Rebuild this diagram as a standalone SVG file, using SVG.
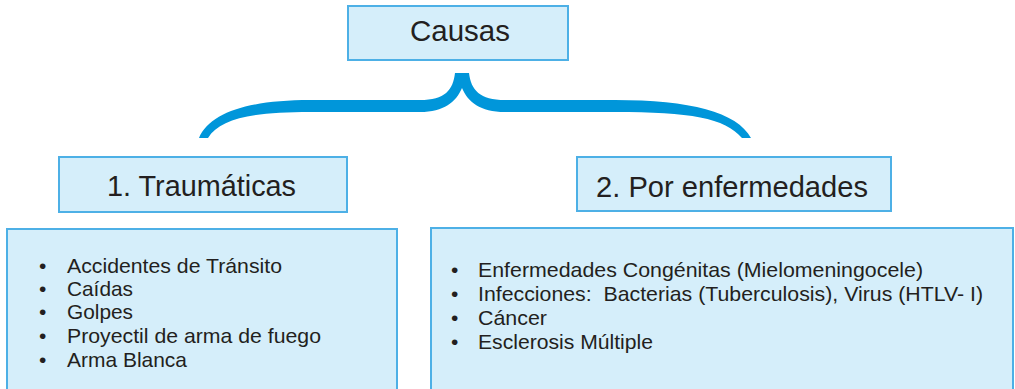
<svg xmlns="http://www.w3.org/2000/svg" width="1015" height="389" viewBox="0 0 1015 389">
<style>
.box{fill:#D5EEFA;stroke:#4DB0E6;stroke-width:2}
.title{font-family:"Liberation Sans",Arial,sans-serif;font-size:29px;fill:#231F20}
.item{font-family:"Liberation Sans",Arial,sans-serif;font-size:21px;fill:#231F20}
.brace{fill:#0096DA;stroke:none}
</style>
<rect width="1015" height="389" fill="#FFFFFF"/>
<g id="causas">
<rect class="box" x="348" y="6" width="220" height="54"/>
<text class="title" x="410" y="41" textLength="100" lengthAdjust="spacingAndGlyphs">Causas</text>
</g>
<g id="connectors">
<path class="brace" d="M199,138 C210,112 250,100 310,100 L420,100 C445,100 453,90 455,73 L469,73 C471,90 480,100 505,100 L615,100 C690,100 737,112 751,138 L742,138 C725,118 690,112 615,112 L505,112 C480,112 468,102 462,88 C456,102 444,112 420,112 L310,112 C255,112 220,118 208,138 Z"/>
</g>
<g id="traumaticas">
<rect class="box" x="59" y="157" width="288" height="55"/>
<text class="title" x="107" y="196" textLength="189" lengthAdjust="spacingAndGlyphs">1. Traumáticas</text>
</g>
<g id="enfermedades">
<rect class="box" x="577" y="157" width="314" height="54"/>
<text class="title" x="596" y="197" textLength="272" lengthAdjust="spacingAndGlyphs">2. Por enfermedades</text>
</g>
<g id="lista-traumaticas">
<rect class="box" x="7" y="229" width="390" height="170"/>
<g class="item">
<text x="39" y="273">•</text><text x="67" y="273" textLength="215" lengthAdjust="spacingAndGlyphs">Accidentes de Tránsito</text>
<text x="39" y="296">•</text><text x="67" y="296" textLength="66" lengthAdjust="spacingAndGlyphs">Caídas</text>
<text x="39" y="319">•</text><text x="67" y="319" textLength="66" lengthAdjust="spacingAndGlyphs">Golpes</text>
<text x="39" y="343">•</text><text x="67" y="343" textLength="254" lengthAdjust="spacingAndGlyphs">Proyectil de arma de fuego</text>
<text x="39" y="367">•</text><text x="67" y="367" textLength="120" lengthAdjust="spacingAndGlyphs">Arma Blanca</text>
</g>
</g>
<g id="lista-enfermedades">
<rect class="box" x="431" y="228" width="582" height="171"/>
<g class="item">
<text x="451" y="277">•</text><text x="478" y="277" textLength="445" lengthAdjust="spacingAndGlyphs">Enfermedades Congénitas (Mielomeningocele)</text>
<text x="451" y="301">•</text><text x="478" y="301" textLength="505" lengthAdjust="spacingAndGlyphs" xml:space="preserve">Infecciones:  Bacterias (Tuberculosis), Virus (HTLV- I)</text>
<text x="451" y="325">•</text><text x="478" y="325" textLength="69" lengthAdjust="spacingAndGlyphs">Cáncer</text>
<text x="451" y="349">•</text><text x="478" y="349" textLength="175" lengthAdjust="spacingAndGlyphs">Esclerosis Múltiple</text>
</g>
</g>
</svg>
